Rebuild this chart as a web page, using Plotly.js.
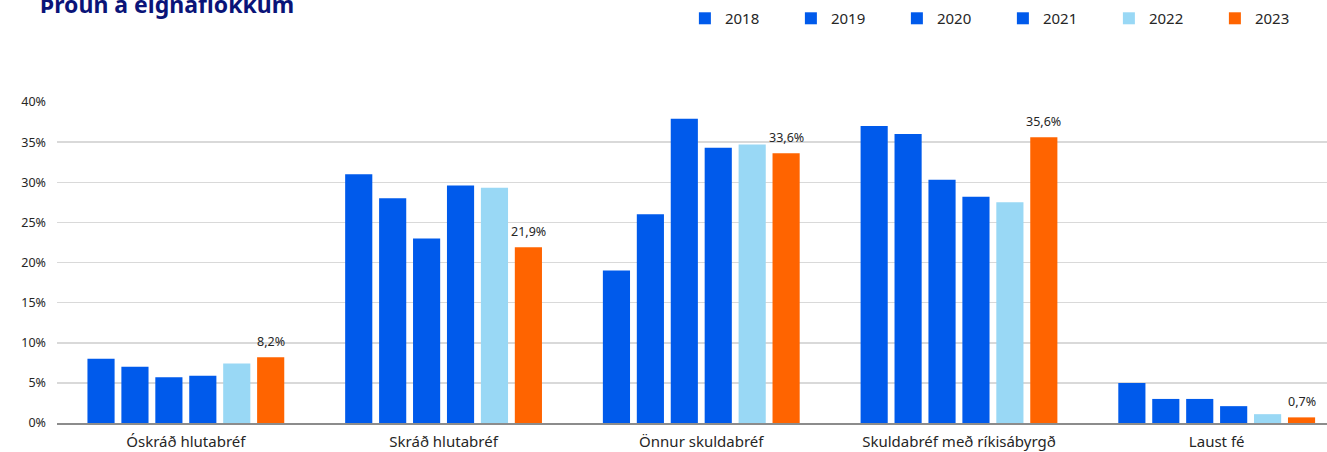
<!DOCTYPE html>
<html>
<head>
<meta charset="utf-8">
<script src="https://cdn.plot.ly/plotly-3.0.1.min.js"></script>
<style>html,body{margin:0;padding:0;background:#fff;}#chart{width:1327px;height:452px;}</style>
</head>
<body>
<div id="chart"></div>
<script>
const categories = ["Óskráð hlutabréf", "Skráð hlutabréf", "Önnur skuldabréf", "Skuldabréf með ríkisábyrgð", "Laust fé"];
const years = ["2018", "2019", "2020", "2021", "2022", "2023"];
const v2018 = [8.0, 31.0, 19.0, 37.0, 5.0];
const v2019 = [7.0, 28.0, 26.0, 36.0, 3.0];
const v2020 = [5.7, 23.0, 37.9, 30.3, 3.0];
const v2021 = [5.9, 29.6, 34.3, 28.2, 2.1];
const v2022 = [7.4, 29.3, 34.7, 27.5, 1.1];
const v2023 = [8.2, 21.9, 33.6, 35.6, 0.7];
const labels2023 = ["8,2%", "21,9%", "33,6%", "35,6%", "0,7%"];
const yTickVals = [0, 5, 10, 15, 20, 25, 30, 35, 40];
const yTickText = ["0%", "5%", "10%", "15%", "20%", "25%", "30%", "35%", "40%"];

const series = [v2018, v2019, v2020, v2021, v2022, v2023];
const colors = ["#005AEB", "#005AEB", "#005AEB", "#005AEB", "#99D8F5", "#FF6400"];
const FONT = "Noto Sans, sans-serif";
const BARGAP = 0.21;

const traces = series.map((vals, i) => ({
  type: "bar",
  name: years[i],
  x: categories,
  y: vals,
  marker: {color: colors[i], line: {width: 0}},
  hoverinfo: "skip"
}));

// labels over the last series' bars, placed at that bar's slot within each group
const nSeries = series.length;
const slot = (1 - BARGAP) / nSeries;
const lastOffset = -(1 - BARGAP) / 2 + slot * (nSeries - 0.5);
const annotations = v2023.map((v, j) => ({
  xref: "x", yref: "y",
  x: j + lastOffset, y: v,
  text: labels2023[j],
  showarrow: false,
  xanchor: "center", yanchor: "bottom",
  yshift: 5,
  font: {family: FONT, size: 12.5, color: "#262626"}
}));

const layout = {
  width: 1327,
  height: 452,
  margin: {l: 57, r: 0, t: 102, b: 29, autoexpand: false},
  paper_bgcolor: "#ffffff",
  plot_bgcolor: "#ffffff",
  font: {family: FONT, color: "#262626"},
  title: {
    text: "<b>Þróun á eignaflokkum</b>",
    font: {family: FONT, size: 23, color: "#0A1478"},
    x: 0.03, xanchor: "left",
    y: 0.989, yanchor: "middle"
  },
  barmode: "group",
  bargap: BARGAP,
  bargroupgap: 0.2,
  showlegend: true,
  legend: {
    orientation: "h",
    x: 0.4944, xanchor: "left",
    y: 1.26, yanchor: "middle",
    font: {family: FONT, size: 15, color: "#262626"},
    entrywidth: 61,
    entrywidthmode: "pixels",
    itemwidth: 30,
    traceorder: "normal"
  },
  annotations: annotations,
  xaxis: {
    type: "category",
    range: [-0.5, 4.428],
    showline: true,
    linecolor: "#8c8c8c",
    linewidth: 2,
    showgrid: false,
    ticks: "",
    ticklabelstandoff: 4,
    tickfont: {family: FONT, size: 15, color: "#262626"},
    fixedrange: true
  },
  yaxis: {
    range: [0, 40],
    tickvals: yTickVals,
    ticktext: yTickText,
    showgrid: true,
    gridcolor: "#d9d9d9",
    gridwidth: 1.5,
    zeroline: false,
    showline: false,
    ticks: "",
    ticklabelstandoff: 10,
    tickfont: {family: FONT, size: 12.5, color: "#262626"},
    fixedrange: true
  }
};

Plotly.newPlot("chart", traces, layout, {staticPlot: true, displayModeBar: false});
</script>
</body>
</html>
